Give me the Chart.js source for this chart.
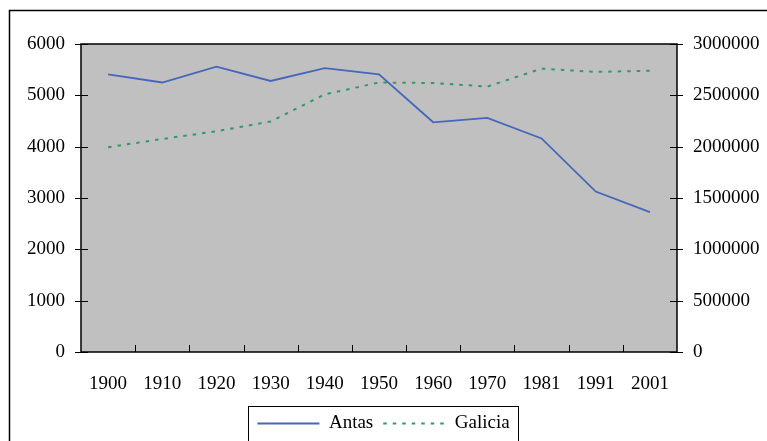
<!DOCTYPE html>
<html>
<head>
<meta charset="utf-8">
<title>Antas / Galicia</title>
<script src="https://cdn.jsdelivr.net/npm/chart.js@4/dist/chart.umd.min.js"></script>
<style>
  html, body { margin: 0; padding: 0; background: #fff; overflow: hidden; }
  canvas { display: block; }
</style>
</head>
<body>
<canvas id="chart" width="767" height="441"></canvas>
<script>
// Data
var years = ['1900', '1910', '1920', '1930', '1940', '1950', '1960', '1970', '1981', '1991', '2001'];
var antas = [5410, 5250, 5560, 5280, 5530, 5410, 4475, 4560, 4160, 3125, 2725];
var galicia = [1995000, 2075000, 2150000, 2245000, 2510000, 2625000, 2620000, 2585000, 2760000, 2728000, 2740000];

var leftTicks = [0, 1000, 2000, 3000, 4000, 5000, 6000];
var rightTicks = [0, 500000, 1000000, 1500000, 2000000, 2500000, 3000000];

var serif = 'Liberation Serif, Times New Roman, serif';

// gray plot area with a black frame, plus the outer chart frame
var plotBackground = {
    id: 'plotBackground',
    beforeDraw: function(chart) {
        var ctx = chart.ctx;
        var a = chart.chartArea;
        ctx.save();
        ctx.fillStyle = '#c0c0c0';
        ctx.fillRect(a.left, a.top, a.right - a.left, a.bottom - a.top);
        ctx.strokeStyle = '#000';
        ctx.lineWidth = 1.5;
        ctx.strokeRect(9.5, 10.5, 900, 600);
        ctx.restore();
    },
    afterDatasetsDraw: function(chart) {
        var ctx = chart.ctx;
        var a = chart.chartArea;
        ctx.save();
        ctx.strokeStyle = '#000';
        ctx.lineWidth = 1.5;
        ctx.strokeRect(a.left, a.top, a.right - a.left, a.bottom - a.top);
        ctx.lineWidth = 1;
        var y = chart.scales.y, y2 = chart.scales.y2, x = chart.scales.x;
        ctx.beginPath();
        y.ticks.forEach(function(t, i) {
            var py = Math.round(y.getPixelForTick(i)) + 0.5;
            ctx.moveTo(a.left - 6, py);
            ctx.lineTo(a.left + 7, py);
        });
        y2.ticks.forEach(function(t, i) {
            var py = Math.round(y2.getPixelForTick(i)) + 0.5;
            ctx.moveTo(a.right - 7, py);
            ctx.lineTo(a.right + 6, py);
        });
        var step = (a.right - a.left) / x.ticks.length;
        for (var i = 1; i < x.ticks.length; i++) {
            var px = Math.round(a.left + i * step) + 0.5;
            ctx.moveTo(px, a.bottom - 7);
            ctx.lineTo(px, a.bottom);
        }
        ctx.stroke();
        ctx.restore();
    },
    afterDraw: function(chart) {
        var boxes = chart.legend.legendHitBoxes;
        if (!boxes || !boxes.length) return;
        var first = boxes[0], last = boxes[boxes.length - 1];
        var cy = first.top + first.height / 2;
        var left = Math.round(first.left - 9) + 0.5;
        var right = Math.round(last.left + last.width + 8) + 0.5;
        var ctx = chart.ctx;
        ctx.save();
        ctx.strokeStyle = '#000';
        ctx.lineWidth = 1;
        ctx.strokeRect(left, Math.round(cy - 18) + 0.5, right - left, 36);
        ctx.restore();
    }
};

new Chart(document.getElementById('chart'), {
    type: 'line',
    data: {
        labels: years,
        datasets: [{
            label: 'Antas',
            data: antas,
            yAxisID: 'y',
            borderColor: '#4466bb',
            backgroundColor: '#4466bb',
            borderWidth: 1.8,
            pointRadius: 0,
            tension: 0,
            fill: false
        }, {
            label: 'Galicia',
            data: galicia,
            yAxisID: 'y2',
            borderColor: '#339966',
            backgroundColor: '#339966',
            borderWidth: 2,
            borderDash: [3.5, 6],
            pointRadius: 0,
            tension: 0,
            fill: false
        }]
    },
    options: {
        responsive: false,
        animation: false,
        layout: { padding: { top: 44, left: 0, right: 0, bottom: -2 } },
        plugins: {
            tooltip: { enabled: false },
            legend: {
                position: 'bottom',
                labels: {
                    usePointStyle: true,
                    pointStyle: 'line',
                    pointStyleWidth: 62,
                    padding: 10,
                    color: '#000',
                    font: { family: serif, size: 19 },
                    generateLabels: function(chart) {
                        var items = Chart.defaults.plugins.legend.labels.generateLabels(chart);
                        items.forEach(function(it, i) {
                            var ds = chart.data.datasets[i];
                            it.lineDash = ds.borderDash || [];
                            it.lineWidth = ds.borderWidth;
                            it.strokeStyle = ds.borderColor;
                        });
                        return items;
                    }
                }
            }
        },
        scales: {
            x: {
                type: 'category',
                offset: true,
                grid: { display: false, drawTicks: false },
                border: { display: false },
                ticks: {
                    color: '#000',
                    padding: 21,
                    maxRotation: 0,
                    autoSkip: false,
                    font: { family: serif, size: 19 }
                },
                afterFit: function(scale) { scale.height = 52; }
            },
            y: {
                position: 'left',
                min: 0,
                max: 6000,
                afterBuildTicks: function(scale) {
                    scale.ticks = leftTicks.map(function(v) { return { value: v }; });
                },
                grid: { display: false, drawTicks: false },
                border: { display: false },
                ticks: {
                    color: '#000',
                    padding: 16,
                    font: { family: serif, size: 19 },
                    callback: function(v) { return String(v); }
                },
                afterFit: function(scale) { scale.width = 81; }
            },
            y2: {
                position: 'right',
                min: 0,
                max: 3000000,
                afterBuildTicks: function(scale) {
                    scale.ticks = rightTicks.map(function(v) { return { value: v }; });
                },
                grid: { display: false, drawTicks: false },
                border: { display: false },
                ticks: {
                    color: '#000',
                    padding: 16,
                    font: { family: serif, size: 19 },
                    callback: function(v) { return String(v); }
                },
                afterFit: function(scale) { scale.width = 90; }
            }
        }
    },
    plugins: [plotBackground]
});
</script>
</body>
</html>
